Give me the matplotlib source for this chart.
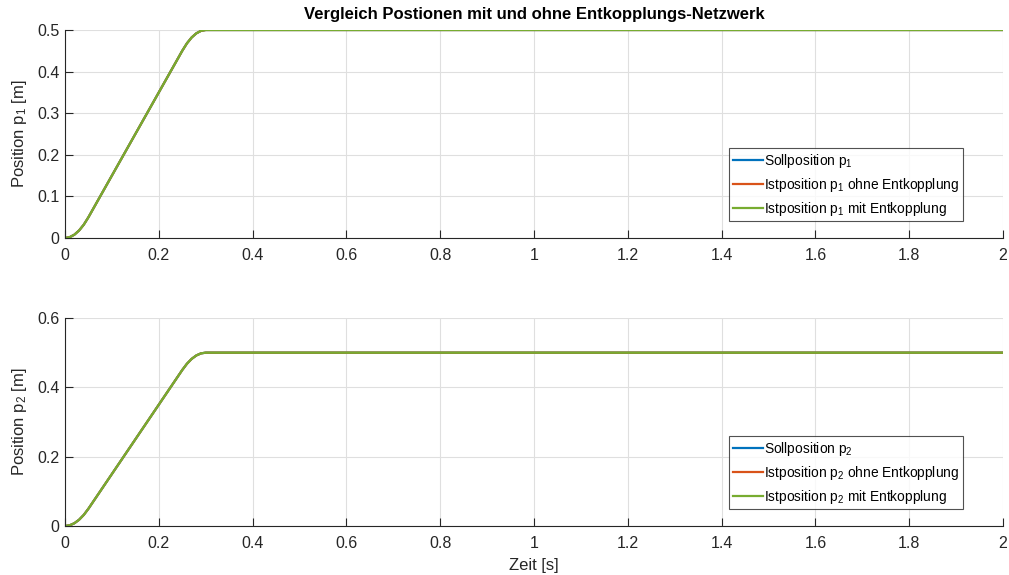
import numpy as np
import matplotlib.pyplot as plt

plt.rcParams['font.family'] = ['Liberation Sans', 'DejaVu Sans']
plt.rcParams['mathtext.fontset'] = 'custom'
plt.rcParams['mathtext.rm'] = 'Liberation Sans'
plt.rcParams['mathtext.it'] = 'Liberation Sans'

# Zeit [s] und Positionen
zeit = [0, 0.01, 0.02, 0.03, 0.04, 0.05, 0.10, 0.15, 0.20, 0.25,
        0.26, 0.27, 0.28, 0.29, 0.30, 2.0]
soll_p1 = [0, 0.002, 0.008, 0.018, 0.032, 0.05, 0.15, 0.25, 0.35, 0.45,
           0.468, 0.482, 0.492, 0.498, 0.5, 0.5]
ist_p1_ohne = [0, 0.002, 0.008, 0.018, 0.032, 0.05, 0.15, 0.25, 0.35, 0.45,
               0.468, 0.482, 0.492, 0.498, 0.5, 0.5]
ist_p1_mit = [0, 0.002, 0.008, 0.018, 0.032, 0.05, 0.15, 0.25, 0.35, 0.45,
              0.468, 0.482, 0.492, 0.498, 0.5, 0.5]
soll_p2 = [0, 0.002, 0.008, 0.018, 0.032, 0.05, 0.15, 0.25, 0.35, 0.45,
           0.468, 0.482, 0.492, 0.498, 0.5, 0.5]
ist_p2_ohne = [0, 0.002, 0.008, 0.018, 0.032, 0.05, 0.15, 0.25, 0.35, 0.45,
               0.468, 0.482, 0.492, 0.498, 0.5, 0.5]
ist_p2_mit = [0, 0.002, 0.008, 0.018, 0.032, 0.05, 0.15, 0.25, 0.35, 0.45,
              0.468, 0.482, 0.492, 0.498, 0.5, 0.5]

xticks = [0, 0.2, 0.4, 0.6, 0.8, 1, 1.2, 1.4, 1.6, 1.8, 2]
yticks1 = [0, 0.1, 0.2, 0.3, 0.4, 0.5]
yticks2 = [0, 0.2, 0.4, 0.6]

colors = ['#0072BD', '#D95319', '#77AC30']

fig = plt.figure(figsize=(10.09, 5.75), dpi=100)
ax1 = fig.add_axes([65 / 1009, 1 - 238 / 575, 938 / 1009, 208 / 575])
ax2 = fig.add_axes([65 / 1009, 1 - 526 / 575, 938 / 1009, 208 / 575])


def style_axes(ax, yticks, ylim):
    ax.set_xlim(0, 2)
    ax.set_ylim(*ylim)
    ax.set_xticks(xticks)
    ax.set_xticklabels([f'{v:g}' for v in xticks])
    ax.set_yticks(yticks)
    ax.set_yticklabels([f'{v:g}' for v in yticks])
    ax.grid(True, color='#dfdfdf', linewidth=0.8)
    ax.set_axisbelow(True)
    for s in ['top', 'right']:
        ax.spines[s].set_visible(False)
    for s in ['left', 'bottom']:
        ax.spines[s].set_color('#262626')
        ax.spines[s].set_linewidth(0.8)
    ax.tick_params(direction='in', length=6, width=0.8, colors='#262626',
                   labelsize=11.5)
    ax.tick_params(axis='x', pad=7)
    ax.tick_params(axis='y', pad=4)


series = [
    (ax1, [soll_p1, ist_p1_ohne, ist_p1_mit], '1', yticks1, (0, 0.5)),
    (ax2, [soll_p2, ist_p2_ohne, ist_p2_mit], '2', yticks2, (0, 0.6)),
]

for ax, ys, idx, yt, yl in series:
    labels = [f'Sollposition p$_{idx}$',
              f'Istposition p$_{idx}$ ohne Entkopplung',
              f'Istposition p$_{idx}$ mit Entkopplung']
    for y, c, lab in zip(ys, colors, labels):
        ax.plot(zeit, y, color=c, linewidth=1.6, label=lab)
    style_axes(ax, yt, yl)
    ax.set_ylabel(f'Position p$_{idx}$ [m]', fontsize=12, color='#262626',
                  labelpad=6)
    leg = ax.legend(loc='lower right', bbox_to_anchor=(0.957, 0.08),
                    fontsize=9.9, frameon=True, fancybox=False,
                    handlelength=2.2, handletextpad=0.1, borderpad=0.25,
                    labelspacing=0.45, borderaxespad=0)
    leg.get_frame().set_edgecolor('#262626')
    leg.get_frame().set_linewidth(0.8)

ax1.set_title('Vergleich Postionen mit und ohne Entkopplungs-Netzwerk',
              fontsize=12, fontweight='bold', pad=8)
ax2.set_xlabel('Zeit [s]', fontsize=12, color='#262626', labelpad=5)

fig.savefig('out.png', dpi=100, facecolor='white')
